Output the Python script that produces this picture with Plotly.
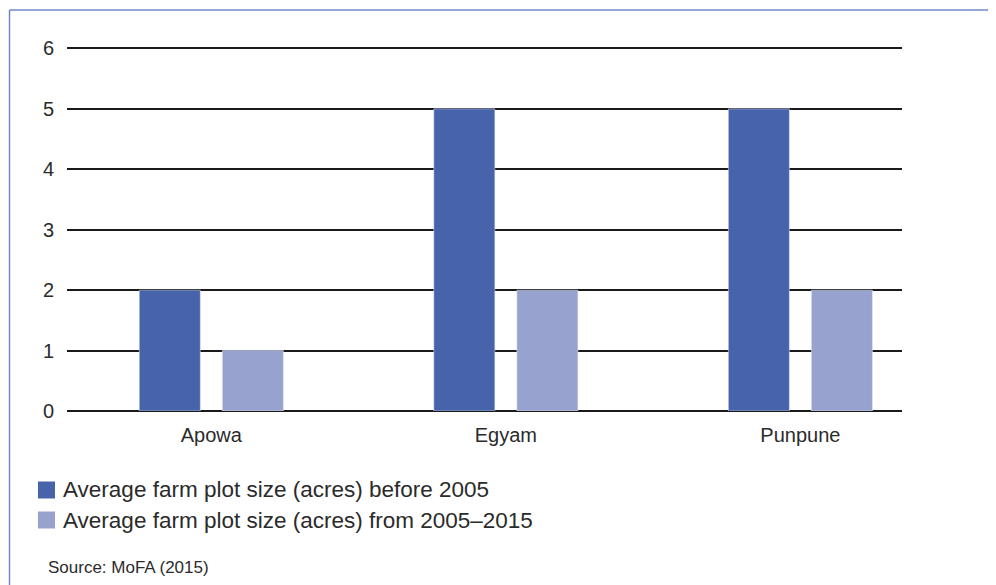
import plotly.graph_objects as go

# data
villages = ['Apowa', 'Egyam', 'Punpune']
before_2005 = [2, 5, 5]
from_2005_2015 = [1, 2, 2]
series_names = ['Average farm plot size (acres) before 2005',
                'Average farm plot size (acres) from 2005\u20132015']
y_ticks = [0, 1, 2, 3, 4, 5, 6]
source_note = 'Source: MoFA (2015)'

DARK = '#4763AA'
LIGHT = '#97A3CE'
BORDER = '#6F88CC'
TEXT = '#2b2b2b'
FONT = 'Liberation Sans, Arial, sans-serif'

Y_MAX = 6.04  # a hair above 6 so the top gridline is still drawn

# page has an 8px body margin, so work in screen px and shift back
OFF = 8
W, H = 996 - OFF, 585 - OFF
B = 174
ph = round(363 * Y_MAX / 6)
L, R, T = 67 - OFF, 94, H - B - ph
pw = W - L - R


def px_x(x):
    return (x - OFF - L) / pw


def px_y(y):
    return (H - B - (y - OFF)) / ph


fig = go.Figure()
fig.add_trace(go.Bar(x=villages, y=before_2005, name=series_names[0],
                     marker_color=DARK))
fig.add_trace(go.Bar(x=villages, y=from_2005_2015, name=series_names[1],
                     marker_color=LIGHT))

fig.update_layout(
    width=W, height=H,
    margin=dict(l=L, r=R, t=T, b=B, pad=0),
    paper_bgcolor='white', plot_bgcolor='white',
    font=dict(family=FONT, color=TEXT, size=20),
    barmode='group', bargap=0.436, bargroupgap=0.265,
    showlegend=False,
    xaxis=dict(range=[-0.49, 2.345], showgrid=False, showline=False,
               ticks='', tickfont=dict(size=20), ticklabelstandoff=10),
    yaxis=dict(range=[0, Y_MAX], tickvals=y_ticks, showgrid=True,
               gridcolor='#1a1a1a', gridwidth=1.5, zeroline=True,
               zerolinecolor='#1a1a1a', zerolinewidth=1.5, showline=False,
               ticks='', ticklabelstandoff=12, tickfont=dict(size=20)),
)

# frame lines top and left
fig.add_shape(type='line', xref='paper', yref='paper',
              x0=px_x(9.5), x1=px_x(1000), y0=px_y(10), y1=px_y(10),
              line=dict(color=BORDER, width=1.5))
fig.add_shape(type='line', xref='paper', yref='paper',
              x0=px_x(9.5), x1=px_x(9.5), y0=px_y(10), y1=px_y(590),
              line=dict(color=BORDER, width=1.5))

# legend drawn by hand: big squares sitting close to the text
legend_rows = [(series_names[0], DARK, 490), (series_names[1], LIGHT, 520)]
for name, color, yc in legend_rows:
    fig.add_shape(type='rect', xref='paper', yref='paper',
                  x0=px_x(38), x1=px_x(55), y0=px_y(yc - 8.5), y1=px_y(yc + 8.5),
                  fillcolor=color, line=dict(width=0))
    fig.add_annotation(text=name, xref='paper', yref='paper',
                       x=px_x(61), y=px_y(yc), xanchor='left', yanchor='middle',
                       showarrow=False, font=dict(size=22.5, color=TEXT))

fig.add_annotation(text=source_note, xref='paper', yref='paper',
                   x=px_x(46), y=px_y(567), xanchor='left', yanchor='middle',
                   showarrow=False, font=dict(size=17, color=TEXT))

fig.write_html('out.html')
